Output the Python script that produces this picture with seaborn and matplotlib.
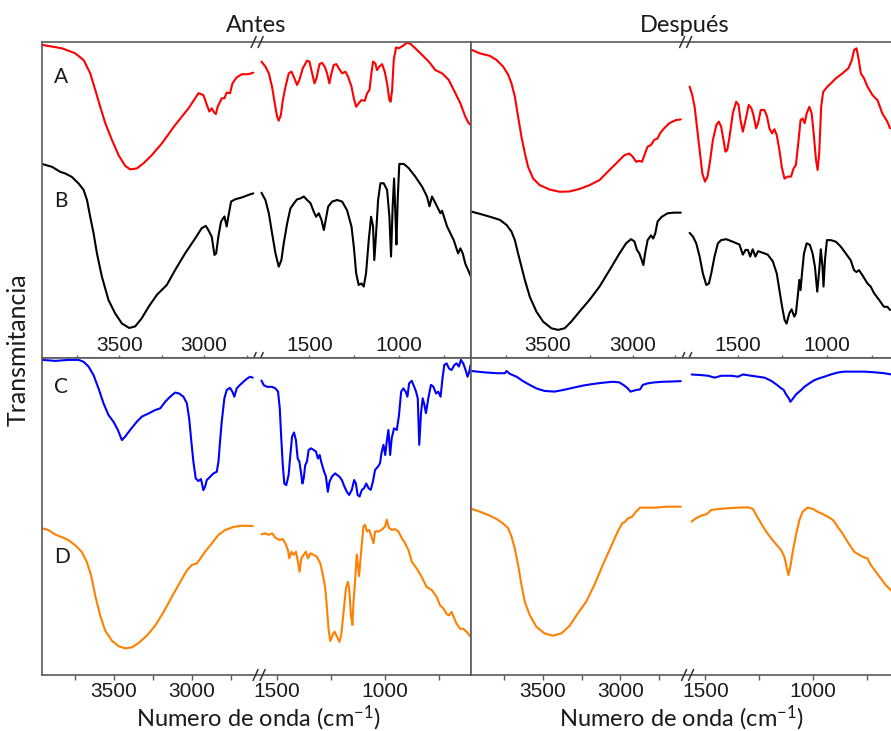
import numpy as np
import seaborn as sns
import matplotlib.pyplot as plt

# Spectra: (wavenumber cm-1, transmittance in arbitrary units, 0-100 per panel)
A_ANTES = [(3955, 99.1), (3837, 98.0), (3759, 96.4), (3710, 94.3), (3671, 90.1), (3641, 84.8), (3612, 79.5),
           (3582, 74.3), (3543, 69.0), (3504, 64.2), (3465, 60.8), (3435, 59.7), (3396, 60.0), (3357, 61.6),
           (3308, 64.2), (3249, 67.9), (3171, 73.7), (3092, 79.0), (3033, 83.8), (3004, 83.2), (2984, 80.1),
           (2969, 78.0), (2955, 79.0), (2945, 78.0), (2931, 77.2), (2920, 79.5), (2896, 82.2), (2880, 82.2),
           (2867, 84.0), (2847, 83.8), (2833, 86.9), (2808, 88.8), (2778, 89.8), (2739, 89.8), (2710, 90.3),
           (1766, 93.8), (1744, 92.2), (1725, 90.1), (1707, 85.8), (1692, 80.6), (1679, 76.4), (1670, 75.1),
           (1658, 76.9), (1647, 81.6), (1632, 85.9), (1614, 90.1), (1599, 90.6), (1586, 89.0), (1568, 86.4),
           (1555, 88.0), (1536, 91.7), (1512, 94.1), (1499, 93.8), (1484, 90.1), (1471, 86.9), (1460, 88.5),
           (1443, 93.0), (1429, 93.4), (1414, 92.2), (1401, 90.1), (1388, 86.9), (1379, 89.5), (1364, 92.7),
           (1349, 93.0), (1336, 91.7), (1317, 90.1), (1299, 90.6), (1284, 89.0), (1265, 85.9), (1252, 82.2),
           (1239, 79.5), (1225, 80.6), (1210, 81.6), (1191, 81.4), (1178, 83.8), (1165, 84.8), (1154, 90.1),
           (1145, 93.8), (1132, 93.2), (1123, 91.1), (1110, 92.2), (1095, 93.0), (1080, 90.6), (1067, 86.9),
           (1054, 81.6), (1047, 81.1), (1039, 84.8), (1030, 94.3), (1017, 98.3), (1002, 98.0), (987, 98.5),
           (974, 99.0), (956, 99.8), (937, 99.4), (910, 98.0), (872, 95.9), (835, 93.8), (798, 91.1),
           (761, 90.1), (724, 88.0), (687, 83.8), (659, 80.6), (632, 76.4), (613, 74.3), (600, 73.7)]

B_ANTES = [(3955, 61.4), (3896, 60.5), (3847, 58.9), (3818, 58.4), (3779, 57.3), (3739, 55.2), (3710, 53.2),
           (3690, 50.0), (3671, 44.7), (3651, 39.4), (3631, 33.0), (3602, 25.7), (3563, 18.3), (3524, 14.1),
           (3484, 10.9), (3441, 9.5), (3406, 10.0), (3367, 12.6), (3327, 16.2), (3278, 20.0), (3220, 23.1),
           (3171, 27.8), (3112, 33.1), (3053, 37.8), (3014, 41.1), (2990, 41.8), (2975, 40.5), (2955, 38.4),
           (2939, 32.6), (2929, 33.1), (2916, 38.4), (2900, 43.2), (2880, 44.8), (2867, 41.6), (2857, 44.8),
           (2841, 49.5), (2818, 50.2), (2778, 50.8), (2739, 51.6), (2710, 52.1),
           (1766, 52.3), (1744, 50.0), (1725, 45.8), (1707, 39.5), (1688, 33.1), (1670, 28.9), (1655, 31.0),
           (1642, 36.3), (1623, 42.6), (1605, 47.3), (1586, 48.9), (1568, 50.2), (1549, 50.5), (1530, 51.1),
           (1512, 50.0), (1493, 49.0), (1475, 46.3), (1462, 44.7), (1447, 45.8), (1432, 43.7), (1419, 40.5),
           (1410, 43.2), (1395, 47.9), (1373, 49.5), (1345, 50.0), (1317, 49.5), (1290, 46.8), (1265, 41.6),
           (1252, 35.2), (1239, 26.8), (1225, 23.1), (1210, 23.6), (1197, 22.6), (1184, 26.8), (1169, 37.3),
           (1156, 44.7), (1145, 41.6), (1138, 31.0), (1128, 39.5), (1117, 50.0), (1104, 55.3), (1086, 55.3),
           (1067, 53.2), (1054, 44.7), (1045, 32.1), (1036, 47.9), (1028, 56.8), (1021, 45.8), (1015, 35.9),
           (1008, 50.0), (999, 61.4), (974, 61.4), (947, 60.1), (910, 57.4), (872, 54.2), (845, 51.1),
           (831, 48.0), (817, 51.1), (798, 49.0), (770, 45.8), (761, 46.6), (733, 41.6), (696, 37.3),
           (672, 33.1), (659, 34.7), (646, 33.1), (632, 29.9), (600, 25.7)]

A_DESPUES = [(3951, 97.5), (3902, 96.4), (3843, 95.6), (3804, 94.3), (3765, 92.2), (3735, 89.6), (3716, 86.9),
             (3696, 82.7), (3677, 76.4), (3657, 70.0), (3637, 64.8), (3618, 60.5), (3588, 56.8), (3549, 54.7),
             (3490, 53.3), (3431, 52.6), (3373, 52.7), (3314, 53.5), (3255, 54.7), (3196, 56.3), (3137, 59.5),
             (3088, 62.1), (3049, 64.2), (3020, 64.7), (3000, 63.7), (2980, 62.1), (2961, 62.4), (2945, 62.1),
             (2931, 64.2), (2912, 66.9), (2892, 67.4), (2873, 69.0), (2853, 69.5), (2839, 71.1), (2814, 72.7),
             (2784, 74.3), (2745, 75.3), (2716, 75.5),
             (1768, 85.9), (1753, 83.2), (1740, 79.5), (1727, 73.2), (1712, 65.8), (1697, 58.4), (1682, 55.8),
             (1668, 57.4), (1653, 62.7), (1638, 69.0), (1619, 73.7), (1605, 74.8), (1592, 73.2), (1579, 69.0),
             (1568, 65.3), (1558, 65.8), (1545, 70.0), (1527, 77.4), (1508, 81.1), (1495, 80.1), (1484, 75.3),
             (1471, 71.6), (1456, 75.3), (1438, 80.1), (1423, 79.0), (1412, 76.9), (1397, 72.7), (1386, 74.3),
             (1371, 78.5), (1351, 78.5), (1336, 76.4), (1323, 72.7), (1308, 71.1), (1295, 72.4), (1282, 70.6),
             (1267, 65.8), (1254, 60.5), (1239, 56.8), (1221, 57.4), (1202, 57.4), (1188, 60.0), (1175, 61.1),
             (1162, 67.9), (1149, 75.3), (1138, 75.8), (1126, 74.3), (1115, 77.4), (1100, 79.5), (1087, 77.4),
             (1076, 71.1), (1063, 62.7), (1054, 59.5), (1045, 64.8), (1034, 79.5), (1023, 84.2), (999, 85.9),
             (980, 86.9), (952, 88.5), (915, 90.1), (882, 91.7), (863, 94.3), (850, 97.5), (837, 98.0),
             (826, 94.8), (813, 90.1), (795, 88.5), (776, 85.9), (748, 83.2), (720, 81.6), (693, 77.4),
             (665, 74.8), (650, 72.7)]

B_DESPUES = [(3951, 46.3), (3902, 45.6), (3843, 44.7), (3784, 43.7), (3745, 42.1), (3716, 40.0), (3696, 37.3),
             (3677, 33.1), (3657, 28.9), (3637, 24.7), (3608, 19.4), (3569, 14.7), (3529, 11.5), (3480, 9.4),
             (3441, 8.9), (3402, 9.4), (3363, 11.5), (3314, 14.7), (3255, 18.4), (3196, 22.6), (3137, 27.8),
             (3078, 33.1), (3039, 36.3), (3010, 37.6), (2990, 36.9), (2975, 34.2), (2961, 33.1), (2947, 31.0),
             (2937, 29.4), (2927, 33.1), (2912, 37.3), (2892, 38.8), (2879, 37.8), (2867, 39.4), (2853, 43.2),
             (2828, 44.7), (2794, 45.8), (2755, 46.0), (2716, 46.0),
             (1768, 39.6), (1749, 38.4), (1731, 36.3), (1712, 32.1), (1694, 26.8), (1675, 23.1), (1660, 23.6),
             (1647, 26.8), (1629, 32.1), (1610, 36.3), (1592, 37.3), (1564, 37.6), (1527, 36.8), (1490, 35.9),
             (1471, 32.7), (1456, 34.2), (1443, 34.2), (1430, 32.1), (1416, 34.4), (1401, 32.1), (1386, 33.8),
             (1360, 33.3), (1332, 32.7), (1304, 30.6), (1282, 26.8), (1267, 21.5), (1252, 16.2), (1238, 12.0),
             (1227, 10.9), (1212, 14.1), (1199, 15.4), (1184, 13.1), (1175, 14.1), (1163, 20.5), (1156, 24.7),
             (1149, 21.5), (1141, 26.8), (1130, 33.1), (1115, 36.3), (1097, 35.8), (1082, 33.1), (1069, 28.9),
             (1056, 21.0), (1045, 27.8), (1036, 34.4), (1027, 28.9), (1021, 22.6), (1013, 31.0), (1002, 37.3),
             (980, 37.3), (952, 36.8), (924, 35.2), (897, 33.1), (869, 30.9), (851, 27.8), (837, 27.2),
             (823, 27.8), (804, 26.2), (776, 23.6), (758, 22.6), (739, 20.5), (711, 18.4), (684, 16.2),
             (665, 16.2), (650, 15.2)]

C_ANTES = [(3962, 99.4), (3877, 99.1), (3791, 99.4), (3727, 99.4), (3695, 98.8), (3663, 97.3), (3631, 94.6),
           (3599, 90.4), (3567, 85.7), (3535, 82.0), (3503, 79.9), (3475, 77.3), (3449, 74.1), (3428, 75.2),
           (3396, 77.3), (3353, 79.9), (3321, 81.5), (3278, 82.5), (3235, 83.6), (3203, 84.1), (3171, 86.2),
           (3139, 87.8), (3107, 89.1), (3082, 88.8), (3054, 87.8), (3032, 85.7), (3017, 80.9), (3005, 74.6),
           (2990, 67.3), (2975, 62.0), (2958, 61.2), (2941, 61.8), (2926, 58.3), (2915, 59.4), (2904, 61.5),
           (2883, 62.5), (2861, 63.6), (2840, 64.1), (2829, 67.3), (2819, 73.6), (2808, 79.9), (2791, 87.3),
           (2776, 89.9), (2755, 90.6), (2740, 89.4), (2727, 87.8), (2712, 90.4), (2691, 91.5), (2669, 92.5),
           (2648, 93.4), (2626, 94.1), (2609, 93.8),
           (1572, 92.9), (1561, 91.4), (1546, 90.9), (1523, 90.9), (1507, 90.4), (1495, 89.4), (1487, 84.1),
           (1480, 74.6), (1473, 66.2), (1466, 60.4), (1457, 59.9), (1446, 63.1), (1438, 69.4), (1430, 75.2),
           (1421, 76.5), (1412, 74.1), (1404, 68.3), (1396, 67.3), (1389, 64.1), (1382, 60.4), (1376, 62.0),
           (1369, 66.2), (1361, 67.3), (1353, 71.0), (1342, 71.5), (1330, 71.0), (1319, 70.5), (1310, 68.3),
           (1302, 69.4), (1295, 67.3), (1284, 64.7), (1273, 62.6), (1264, 57.8), (1256, 61.0), (1245, 62.6),
           (1230, 63.6), (1211, 62.6), (1199, 61.5), (1187, 59.4), (1176, 57.8), (1165, 56.8), (1153, 58.4),
           (1142, 61.5), (1134, 60.4), (1126, 56.8), (1117, 56.3), (1106, 58.4), (1096, 58.9), (1086, 60.4),
           (1075, 58.9), (1065, 58.4), (1055, 61.0), (1045, 64.7), (1032, 65.7), (1022, 66.8), (1014, 70.5),
           (1006, 72.6), (998, 69.4), (991, 73.6), (983, 77.3), (975, 69.4), (968, 74.6), (957, 77.8),
           (944, 77.3), (934, 82.0), (924, 89.4), (914, 90.4), (903, 89.4), (895, 87.8), (887, 92.0),
           (875, 92.8), (864, 91.0), (855, 89.4), (847, 87.3), (840, 72.6), (832, 82.6), (824, 87.3),
           (816, 85.2), (809, 82.6), (798, 87.3), (786, 91.5), (775, 91.0), (762, 88.8), (752, 89.4),
           (741, 87.8), (733, 93.1), (724, 97.8), (713, 98.3), (702, 96.7), (690, 96.2), (677, 97.8),
           (667, 98.3), (656, 97.3), (647, 99.4), (636, 98.3), (625, 96.2), (616, 94.1), (608, 95.7),
           (602, 97.8)]

D_ANTES = [(3962, 46.3), (3919, 45.7), (3877, 44.3), (3834, 43.5), (3791, 42.5), (3748, 40.9), (3706, 38.8),
           (3674, 35.6), (3646, 31.3), (3620, 25.0), (3588, 18.7), (3556, 14.0), (3513, 10.8), (3470, 9.1),
           (3428, 8.4), (3385, 8.7), (3342, 10.1), (3289, 12.4), (3235, 15.6), (3182, 19.8), (3129, 24.6),
           (3075, 29.3), (3032, 33.0), (3000, 34.7), (2968, 35.2), (2947, 36.6), (2915, 38.9), (2872, 41.5),
           (2829, 44.2), (2787, 45.7), (2733, 46.7), (2680, 47.1), (2609, 47.0),
           (1572, 44.4), (1554, 44.7), (1538, 44.2), (1523, 44.7), (1507, 43.3), (1489, 42.6), (1473, 42.9),
           (1461, 41.5), (1449, 39.4), (1443, 36.8), (1433, 38.9), (1423, 37.9), (1412, 38.9), (1403, 35.8),
           (1395, 32.6), (1387, 36.8), (1376, 37.9), (1366, 38.9), (1356, 36.8), (1345, 38.4), (1330, 37.9),
           (1315, 37.3), (1299, 35.2), (1287, 31.5), (1276, 27.3), (1268, 21.0), (1261, 14.7), (1253, 10.7),
           (1242, 12.6), (1233, 13.7), (1222, 12.1), (1210, 10.5), (1202, 12.6), (1191, 19.9), (1180, 27.3),
           (1171, 29.4), (1165, 27.3), (1157, 18.9), (1150, 15.8), (1145, 23.1), (1137, 30.2), (1130, 38.0),
           (1119, 31.2), (1114, 35.4), (1106, 41.6), (1099, 46.9), (1091, 47.4), (1083, 45.3), (1072, 45.8),
           (1060, 43.2), (1052, 41.6), (1045, 45.3), (1029, 45.3), (1014, 45.8), (998, 46.9), (991, 49.0),
           (980, 46.4), (968, 45.8), (952, 46.0), (937, 45.3), (921, 43.2), (906, 41.6), (890, 39.4),
           (875, 35.8), (852, 33.6), (829, 31.0), (806, 27.8), (782, 26.8), (759, 24.6), (744, 22.0),
           (728, 21.0), (713, 19.3), (702, 18.8), (690, 19.9), (677, 17.8), (667, 16.2), (651, 14.6),
           (636, 14.6), (620, 13.6), (602, 12.1)]

C_DESPUES = [(3958, 95.9), (3883, 95.5), (3797, 95.2), (3744, 95.2), (3733, 95.9), (3712, 95.0), (3669, 94.1),
             (3627, 92.7), (3584, 91.5), (3541, 90.4), (3488, 89.6), (3424, 89.4), (3370, 89.9), (3306, 90.6),
             (3242, 91.3), (3178, 91.8), (3114, 92.2), (3049, 92.5), (3007, 92.3), (2975, 91.3), (2953, 90.4),
             (2936, 89.4), (2921, 89.6), (2900, 89.9), (2874, 90.1), (2857, 91.5), (2825, 92.0), (2783, 92.3),
             (2729, 92.5), (2665, 92.6), (2612, 92.7),
             (1564, 94.8), (1518, 94.6), (1487, 94.4), (1457, 93.8), (1426, 94.4), (1379, 94.4), (1349, 94.1),
             (1325, 94.8), (1287, 94.4), (1256, 94.1), (1225, 93.8), (1194, 92.8), (1171, 91.7), (1151, 90.6),
             (1136, 89.9), (1125, 88.5), (1114, 87.5), (1105, 86.2), (1094, 87.1), (1079, 88.5), (1055, 89.9),
             (1040, 90.9), (1017, 92.0), (994, 93.0), (971, 93.6), (947, 94.1), (917, 94.8), (886, 95.4),
             (855, 95.7), (809, 95.7), (762, 95.7), (716, 95.5), (670, 95.2), (634, 94.8)]

D_DESPUES = [(3958, 52.4), (3904, 51.5), (3851, 50.5), (3797, 49.2), (3755, 47.8), (3723, 46.3), (3701, 43.6),
             (3680, 39.9), (3659, 34.7), (3637, 28.4), (3616, 23.1), (3584, 18.9), (3541, 15.2), (3488, 13.1),
             (3435, 12.4), (3381, 13.1), (3328, 15.5), (3275, 19.4), (3221, 23.1), (3168, 28.4), (3114, 34.7),
             (3061, 40.5), (3018, 45.2), (2990, 47.8), (2969, 48.4), (2953, 49.4), (2926, 49.9), (2900, 51.5),
             (2874, 52.8), (2836, 52.8), (2772, 52.8), (2708, 53.1), (2654, 53.1), (2612, 53.1),
             (1564, 48.4), (1541, 49.6), (1518, 50.3), (1495, 50.7), (1472, 52.1), (1433, 52.4), (1395, 52.6),
             (1349, 52.8), (1302, 52.9), (1279, 52.4), (1264, 50.5), (1241, 47.8), (1217, 45.2), (1194, 43.1),
             (1171, 41.2), (1148, 39.4), (1133, 37.3), (1123, 34.2), (1114, 31.5), (1105, 34.2), (1094, 38.9),
             (1079, 44.2), (1063, 48.9), (1048, 51.5), (1025, 52.8), (1001, 52.4), (978, 51.5), (947, 50.5),
             (917, 49.4), (901, 48.4), (886, 46.8), (863, 44.7), (840, 42.1), (809, 38.9), (770, 37.3),
             (747, 36.8), (731, 34.7), (708, 32.6), (685, 30.5), (662, 28.4), (634, 26.5)]

MAJOR_TICKS = [3500, 3000, 1500, 1000]
TICK_LABELS = ['3500', '3000', '1500', '1000']
MINOR_TICKS = [3750, 3250, 2750, 1250, 750]
COLUMN_TITLES = ['Antes', 'Después']
XLABEL = 'Numero de onda (cm$^{-1}$)'
YLABEL = 'Transmitancia'

# broken x axis: wavenumber limits of each segment and where they sit (0..1 from the low end)
TOP_WN = [600, 1790, 2690, 3955]
TOP_U = [0, 0.4985, 0.4995, 1]
BOT_WN = [600, 1583, 2571, 3962]
BOT_U = [0, 0.494, 0.495, 1]

sns.set_style('white')
plt.rcParams['font.family'] = ['Lato', 'DejaVu Sans']
plt.rcParams['mathtext.fontset'] = 'custom'
plt.rcParams['mathtext.rm'] = 'Lato'
plt.rcParams['mathtext.default'] = 'regular'

SPINE = '#5a5a5a'
TXT = '#1a1a1a'


def piecewise(xs, us):
    def make(a, b):
        a, b = np.asarray(a, float), np.asarray(b, float)
        s0 = (b[1] - b[0]) / (a[1] - a[0])
        s1 = (b[-1] - b[-2]) / (a[-1] - a[-2])

        def f(v):
            v = np.asarray(v, float)
            out = np.interp(v, a, b)
            out = np.where(v < a[0], b[0] + (v - a[0]) * s0, out)
            return np.where(v > a[-1], b[-1] + (v - a[-1]) * s1, out)
        return f
    return make(xs, us), make(us, xs)


def draw_trace(ax, pts, color):
    arr = np.array(pts, dtype=float)
    for part in (arr[arr[:, 0] > 2000], arr[arr[:, 0] < 2000]):
        sns.lineplot(x=part[:, 0], y=part[:, 1], ax=ax, color=color, lw=1.5,
                     sort=False, estimator=None)


def break_mark(ax, xf, yf, w_px, h_px):
    for off in (-3.5, 3.5):
        xs = [xf + (off - 2.5) / w_px, xf + (off + 2.5) / w_px]
        ys = [yf - 5.5 / h_px, yf + 5.5 / h_px]
        ax.plot(xs, ys, color='#333333', lw=1.1, transform=ax.transAxes, clip_on=False, zorder=5)


W, H = 891, 731
fig = plt.figure(figsize=(W / 100, H / 100), dpi=100)

panels = [
    # (left px, top px, width px, height px, row, traces, letters)
    (42, 42, 429, 316, 'top', [(A_ANTES, '#ff0000'), (B_ANTES, '#000000')], [('A', 0.870), ('B', 0.478)]),
    (471, 42, 428, 316, 'top', [(A_DESPUES, '#ff0000'), (B_DESPUES, '#000000')], []),
    (42, 358, 429, 317, 'bot', [(C_ANTES, '#0000ff'), (D_ANTES, '#ff8000')], [('C', 0.890), ('D', 0.353)]),
    (471, 358, 428, 317, 'bot', [(C_DESPUES, '#0000ff'), (D_DESPUES, '#ff8000')], []),
]

for left, top, wpx, hpx, row, traces, letters in panels:
    ax = fig.add_axes([left / W, 1 - (top + hpx) / H, wpx / W, hpx / H])
    wn, uu = (TOP_WN, TOP_U) if row == 'top' else (BOT_WN, BOT_U)
    ax.set_xscale('function', functions=piecewise(wn, uu))
    for pts, col in traces:
        draw_trace(ax, pts, col)
    ax.set_xlim(wn[-1], wn[0])
    ax.set_ylim(0, 100)
    ax.set_yticks([])
    ax.set_xticks(MAJOR_TICKS, labels=TICK_LABELS)
    ax.set_xticks(MINOR_TICKS, minor=True)
    ax.set_xlabel('')
    ax.set_ylabel('')
    for sp in ax.spines.values():
        sp.set_color(SPINE)
        sp.set_linewidth(1.2)
    brk = 1 - uu[1]
    if row == 'top':
        ax.tick_params(axis='x', which='both', bottom=True, top=False, direction='inout', length=5,
                       width=1, color=SPINE, pad=-18.4, labelsize=15, labelcolor=TXT)
        break_mark(ax, brk, 1.0, wpx, hpx)
        break_mark(ax, brk, 0.0, wpx, hpx)
    else:
        ax.tick_params(axis='x', which='both', bottom=True, top=False, direction='out', length=3.6,
                       width=1, color=SPINE, pad=1.5, labelsize=15, labelcolor=TXT)
        break_mark(ax, brk, 0.0, wpx, hpx)
    for lbl in ax.get_xticklabels():
        lbl.set_fontfamily(['Liberation Sans', 'DejaVu Sans'])
    for letter, yf in letters:
        ax.text(0.028, yf, letter, transform=ax.transAxes, fontsize=15, color=TXT,
                ha='left', va='baseline')

fig.text(256 / W, 1 - 32 / H, COLUMN_TITLES[0], ha='center', va='baseline', fontsize=17, color=TXT)
fig.text(685 / W, 1 - 32 / H, COLUMN_TITLES[1], ha='center', va='baseline', fontsize=17, color=TXT)
fig.text(258 / W, 1 - 726 / H, XLABEL, ha='center', va='baseline', fontsize=17, color=TXT)
fig.text(681 / W, 1 - 726 / H, XLABEL, ha='center', va='baseline', fontsize=17, color=TXT)
fig.text(18.5 / W, 1 - 350 / H, YLABEL, rotation=90, ha='center', va='center', fontsize=18, color=TXT)

fig.savefig('out.png', dpi=100)
